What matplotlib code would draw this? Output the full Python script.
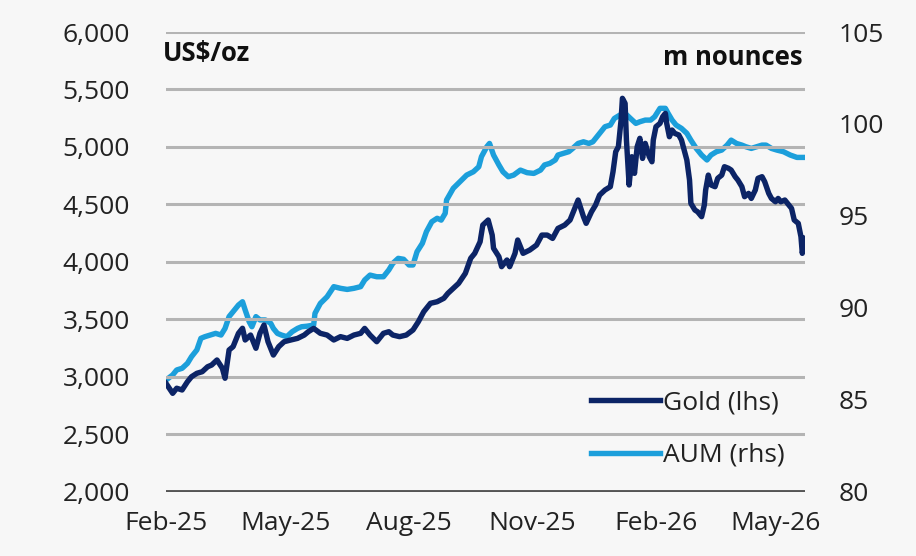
import matplotlib
matplotlib.use("Agg")
import matplotlib.pyplot as plt
import pandas as pd

# Gold price, US$/oz (left axis)
gold_dates = [
    "2025-02-01", "2025-02-06", "2025-02-09", "2025-02-13", "2025-02-17", "2025-02-20",
    "2025-02-24", "2025-02-28", "2025-03-04", "2025-03-07", "2025-03-11", "2025-03-15",
    "2025-03-17", "2025-03-20", "2025-03-23", "2025-03-27", "2025-03-30", "2025-04-01",
    "2025-04-05", "2025-04-09", "2025-04-12", "2025-04-15", "2025-04-18", "2025-04-22",
    "2025-04-26", "2025-04-30", "2025-05-05", "2025-05-10", "2025-05-15", "2025-05-18",
    "2025-05-22", "2025-05-27", "2025-06-01", "2025-06-06", "2025-06-11", "2025-06-16",
    "2025-06-21", "2025-06-26", "2025-06-29", "2025-07-03", "2025-07-08", "2025-07-13",
    "2025-07-17", "2025-07-20", "2025-07-25", "2025-07-30", "2025-08-04", "2025-08-08",
    "2025-08-12", "2025-08-17", "2025-08-22", "2025-08-27", "2025-08-30", "2025-09-03",
    "2025-09-07", "2025-09-12", "2025-09-16", "2025-09-19", "2025-09-23", "2025-09-25",
    "2025-09-29", "2025-10-02", "2025-10-03", "2025-10-07", "2025-10-09", "2025-10-13",
    "2025-10-15", "2025-10-19", "2025-10-21", "2025-10-25", "2025-10-30", "2025-11-04",
    "2025-11-08", "2025-11-12", "2025-11-16", "2025-11-20", "2025-11-25", "2025-11-29",
    "2025-12-03", "2025-12-05", "2025-12-09", "2025-12-11", "2025-12-15", "2025-12-18",
    "2025-12-21", "2025-12-25", "2025-12-29", "2025-12-31", "2026-01-02", "2026-01-04",
    "2026-01-06", "2026-01-07", "2026-01-09", "2026-01-10", "2026-01-12", "2026-01-14",
    "2026-01-16", "2026-01-18", "2026-01-20", "2026-01-22", "2026-01-24", "2026-01-27",
    "2026-01-29", "2026-01-30", "2026-02-01", "2026-02-04", "2026-02-06", "2026-02-08",
    "2026-02-09", "2026-02-11", "2026-02-13", "2026-02-15", "2026-02-18", "2026-02-20",
    "2026-02-22", "2026-02-24", "2026-02-26", "2026-02-27", "2026-03-02", "2026-03-04",
    "2026-03-07", "2026-03-09", "2026-03-10", "2026-03-12", "2026-03-14", "2026-03-17",
    "2026-03-19", "2026-03-22", "2026-03-24", "2026-03-27", "2026-03-29", "2026-04-01",
    "2026-04-03", "2026-04-06", "2026-04-08", "2026-04-11", "2026-04-13", "2026-04-16",
    "2026-04-18", "2026-04-21", "2026-04-23", "2026-04-26", "2026-04-28", "2026-05-01",
    "2026-05-03", "2026-05-05", "2026-05-08", "2026-05-10", "2026-05-13", "2026-05-15",
    "2026-05-18", "2026-05-20", "2026-05-21", "2026-05-23",
]
gold_values = [
    2943, 2856, 2900, 2885, 2957, 3000,
    3030, 3044, 3087, 3102, 3146, 3074,
    2987, 3233, 3262, 3378, 3422, 3320,
    3363, 3248, 3378, 3450, 3305, 3189,
    3262, 3305, 3320, 3334, 3363, 3392,
    3421, 3378, 3363, 3320, 3349, 3334,
    3363, 3378, 3421, 3363, 3305, 3378,
    3392, 3363, 3349, 3363, 3407, 3479,
    3566, 3639, 3653, 3683, 3726, 3770,
    3813, 3900, 4031, 4074, 4175, 4320,
    4364, 4233, 4118, 4045, 3958, 4016,
    3958, 4074, 4190, 4074, 4103, 4146,
    4233, 4233, 4204, 4291, 4320, 4364,
    4480, 4538, 4393, 4335, 4436, 4494,
    4581, 4625, 4654, 4784, 4958, 5002,
    5234, 5423, 5379, 5060, 4669, 4915,
    4770, 5002, 5075, 4900, 5031, 4915,
    4871, 5060, 5176, 5205, 5263, 5292,
    5205, 5089, 5147, 5118, 5104, 5060,
    4973, 4886, 4712, 4509, 4451, 4436,
    4393, 4494, 4625, 4755, 4669, 4654,
    4727, 4755, 4828, 4814, 4799, 4741,
    4712, 4654, 4567, 4596, 4552, 4625,
    4727, 4741, 4697, 4596, 4552, 4523,
    4552, 4523, 4538, 4509, 4465, 4364,
    4335, 4219, 4074, 4205,
]

# Gold ETF holdings, m ounces (right axis)
aum_dates = [
    "2025-02-01", "2025-02-06", "2025-02-09", "2025-02-13", "2025-02-17", "2025-02-20",
    "2025-02-24", "2025-02-27", "2025-03-02", "2025-03-06", "2025-03-10", "2025-03-14",
    "2025-03-17", "2025-03-20", "2025-03-23", "2025-03-27", "2025-03-30", "2025-04-01",
    "2025-04-04", "2025-04-06", "2025-04-09", "2025-04-12", "2025-04-16", "2025-04-20",
    "2025-04-22", "2025-04-25", "2025-04-28", "2025-05-02", "2025-05-06", "2025-05-10",
    "2025-05-13", "2025-05-17", "2025-05-22", "2025-05-23", "2025-05-27", "2025-06-01",
    "2025-06-06", "2025-06-11", "2025-06-16", "2025-06-21", "2025-06-26", "2025-06-29",
    "2025-07-03", "2025-07-08", "2025-07-13", "2025-07-17", "2025-07-20", "2025-07-24",
    "2025-07-28", "2025-08-01", "2025-08-04", "2025-08-07", "2025-08-11", "2025-08-14",
    "2025-08-18", "2025-08-22", "2025-08-25", "2025-08-28", "2025-08-29", "2025-09-03",
    "2025-09-08", "2025-09-13", "2025-09-18", "2025-09-22", "2025-09-24", "2025-09-28",
    "2025-09-30", "2025-10-03", "2025-10-07", "2025-10-10", "2025-10-14", "2025-10-18",
    "2025-10-23", "2025-10-28", "2025-11-02", "2025-11-07", "2025-11-10", "2025-11-14",
    "2025-11-18", "2025-11-20", "2025-11-24", "2025-11-28", "2025-12-01", "2025-12-05",
    "2025-12-09", "2025-12-13", "2025-12-16", "2025-12-21", "2025-12-25", "2025-12-29",
    "2026-01-01", "2026-01-05", "2026-01-09", "2026-01-13", "2026-01-17", "2026-01-20",
    "2026-01-24", "2026-01-28", "2026-01-31", "2026-02-04", "2026-02-08", "2026-02-10",
    "2026-02-13", "2026-02-16", "2026-02-20", "2026-02-24", "2026-02-27", "2026-03-03",
    "2026-03-07", "2026-03-11", "2026-03-14", "2026-03-18", "2026-03-22", "2026-03-26",
    "2026-03-29", "2026-04-02", "2026-04-06", "2026-04-09", "2026-04-13", "2026-04-17",
    "2026-04-21", "2026-04-24", "2026-04-28", "2026-05-02", "2026-05-07", "2026-05-12",
    "2026-05-17", "2026-05-23",
]
aum_values = [
    86.07, 86.35, 86.62, 86.71, 86.98, 87.34,
    87.71, 88.34, 88.43, 88.52, 88.61, 88.52,
    88.88, 89.52, 89.79, 90.15, 90.33, 89.88,
    89.24, 88.97, 89.52, 89.34, 89.34, 89.16,
    88.88, 88.61, 88.52, 88.43, 88.70, 88.88,
    88.97, 89.00, 89.06, 89.70, 90.24, 90.60,
    91.15, 91.06, 91.00, 91.06, 91.15, 91.51,
    91.78, 91.69, 91.69, 92.06, 92.42, 92.69,
    92.64, 92.33, 92.33, 93.05, 93.51, 94.14,
    94.68, 94.87, 94.77, 95.14, 95.86, 96.50,
    96.86, 97.22, 97.40, 97.67, 98.22, 98.76,
    98.94, 98.31, 97.77, 97.40, 97.13, 97.22,
    97.49, 97.35, 97.31, 97.49, 97.77, 97.86,
    98.04, 98.31, 98.40, 98.49, 98.67, 98.94,
    99.03, 98.94, 99.03, 99.49, 99.85, 99.94,
    100.30, 100.48, 100.58, 100.30, 100.03, 100.12,
    100.21, 100.21, 100.39, 100.85, 100.85, 100.58,
    100.21, 99.94, 99.76, 99.49, 99.12, 98.67,
    98.31, 98.04, 98.31, 98.49, 98.58, 98.85,
    99.12, 98.94, 98.85, 98.76, 98.67, 98.76,
    98.85, 98.85, 98.67, 98.58, 98.49, 98.31,
    98.18, 98.18,
]

tick_dates = ["2025-02-01", "2025-05-01", "2025-08-01", "2025-11-01", "2026-02-01", "2026-05-01"]
tick_labels = ["Feb-25", "May-25", "Aug-25", "Nov-25", "Feb-26", "May-26"]
left_ticks = [2000, 2500, 3000, 3500, 4000, 4500, 5000, 5500, 6000]
right_ticks = [80, 85, 90, 95, 100, 105]

NAVY = "#0c2466"
LIGHT = "#1c9fdb"
BG = "#f7f7f7"

plt.rcParams["font.family"] = ["Open Sans", "DejaVu Sans"]

fig = plt.figure(figsize=(9.16, 5.56), dpi=100, facecolor=BG)
ax = fig.add_axes([0.1812, 0.1157, 0.6976, 0.8267], facecolor=BG)
ax2 = ax.twinx()

gd = pd.to_datetime(gold_dates)
ad = pd.to_datetime(aum_dates)

ax2.plot(ad, aum_values, color=LIGHT, lw=3.9, solid_joinstyle="round", label="AUM (rhs)", zorder=3)
ax.plot(gd, gold_values, color=NAVY, lw=3.9, solid_joinstyle="round", label="Gold (lhs)", zorder=4)

# gold line drawn above the twin axis
ax.set_zorder(ax2.get_zorder() + 1)
ax.patch.set_visible(False)
ax2.patch.set_visible(True)
ax2.patch.set_facecolor(BG)

ax.set_ylim(2000, 6000)
ax2.set_ylim(80, 105)
ax.set_xlim(pd.Timestamp("2025-02-01"), pd.Timestamp("2026-05-23"))

ax.set_yticks(left_ticks)
ax.set_yticklabels([f"{v:,}" for v in left_ticks])
ax2.set_yticks(right_ticks)
ax2.set_yticklabels([str(v) for v in right_ticks])
ax.set_xticks(pd.to_datetime(tick_dates))
ax.set_xticklabels(tick_labels)

for a in (ax, ax2):
    for s in a.spines.values():
        s.set_visible(False)
    a.tick_params(length=0, labelsize=19, colors="#222222")
ax.tick_params(axis="y", pad=26)
ax2.tick_params(axis="y", pad=24)
ax.tick_params(axis="x", pad=14)

# gridlines on the left scale
for v in left_ticks[1:]:
    ax.axhline(v, color="#b4b4b4", lw=2.2, zorder=1)
ax.axhline(2000, color="#555555", lw=2.8, zorder=2)

ax.text(-0.005, 0.982, "US$/oz", transform=ax.transAxes, fontsize=18.5,
        fontweight="bold", ha="left", va="top", color="#111111")
ax.text(0.997, 0.975, "m nounces", transform=ax.transAxes, fontsize=18.5,
        fontweight="bold", ha="right", va="top", color="#111111")

h1, l1 = ax.get_legend_handles_labels()
h2, l2 = ax2.get_legend_handles_labels()
leg = ax.legend(h1 + h2, l1 + l2, loc="lower right", bbox_to_anchor=(1.005, 0.0),
                frameon=False, fontsize=19, handlelength=2.6, handletextpad=0.12,
                labelspacing=1.05)
for t in leg.get_texts():
    t.set_color("#222222")

fig.savefig("out.png", dpi=100, facecolor=BG)
